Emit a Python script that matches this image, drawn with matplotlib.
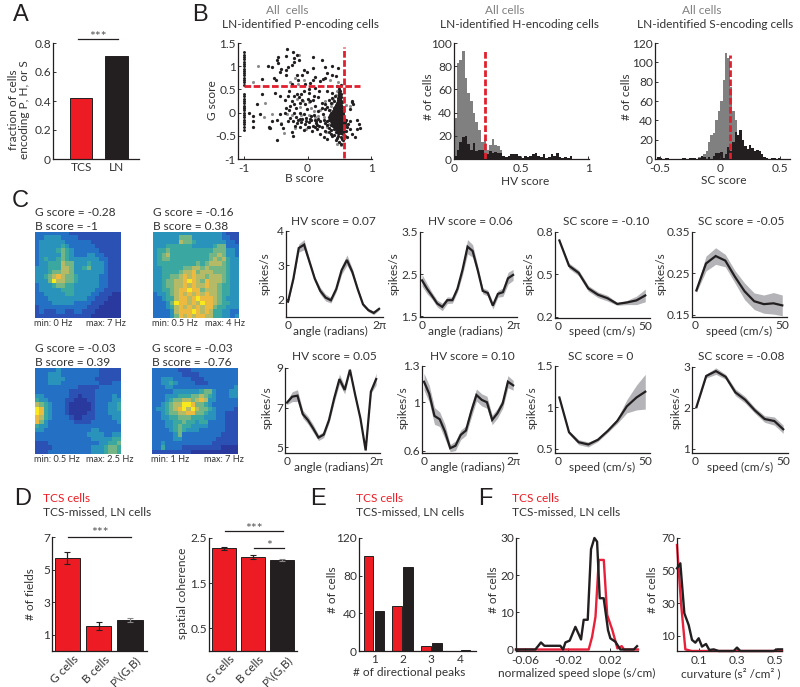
import numpy as np
import matplotlib
matplotlib.use("Agg")
import matplotlib.pyplot as plt
from matplotlib.colors import LinearSegmentedColormap
from matplotlib.transforms import ScaledTranslation

plt.rcParams['font.family'] = ['Lato', 'DejaVu Sans']
FS = 8.6
INK = '#333333'
BLK = '#231f20'
RED = '#ed1c24'
GREY = '#808080'
BAND = '#b4b4b8'

# ---------- A
a_labels = ['TCS', 'LN']
a_values = [0.42, 0.71]

# ---------- B scatter (B score, G score)
col_y = [1.3,1.25,1.2,1.15,1.1,1.05,1.0,.95,.9,.85,.8,.75,.7,.65,.6,.4,.35,.3,.25,.2,.15,.1,.05,0,-.05,-.1,-.15,-.2,-.25,-.3,-.37]
black_pts = [(-.32,1.38),(-.23,1.3),(-.17,1.25),(.08,1.19),(.22,1.13),(-.47,1.2),(-.48,1.13),(-.34,1.22),(-.62,1.01),(-.56,.99),(-.46,1.06),(-.21,1.17),(-.22,1.1),(-.25,1.03),(-.31,.99),(-.41,.94),(-.43,.87),(-.34,.92),(-.14,1.13),(-.05,.91),(-.01,.87),(.09,.96),(.28,.98),(.39,1.01),(.48,.96),(.31,.85),(.12,.76),(-.16,.82),(-.09,.8),(-.15,.71),(-.71,.73),(-.52,.74),(-.5,.71),(-.33,.8),(.28,.74),(.2,.69),(.24,.73),(.39,.82),(.45,.78),(.09,.7),(.04,.64),(-.04,.62),(-.25,.62),(-.29,.46),(-.51,.43),(-.71,.41),(-.8,.19),(-.43,.35),(-.3,.35),(-.22,.35),(-.17,.4),(-.06,.46),(.02,.5),(.11,.53),(.18,.46),(.31,.46),(.38,.43),(.46,.57),(.52,.6),
(-.25,.25),(-.21,.18),(-.18,.09),(-.12,0),(-.06,-.04),(-.01,.07),(.04,.25),(.08,.27),(.12,.14),(-.04,.18),(-.08,.28),(-.13,.33),(-.27,.14),(-.22,0),(-.18,-.09),(-.12,-.14),(-.03,-.11),(.06,-.07),(.11,-.16),(.17,-.14),(.23,.21),(.28,.18),(.33,.28),(.38,.32),(.28,.07),(.24,-.04),(.2,-.18),(.25,-.16),(.31,-.19),(.16,.33),(.03,.42),(-.1,.4),(-.36,.27),(-.33,.1),(-.29,.05),
(-.56,-.18),(-.48,-.16),(-.43,-.04),(-.36,-.01),(-.27,-.11),(-.41,-.25),(-.3,-.19),(-.23,-.19),(-.17,-.23),(-.1,-.21),(-.04,-.25),(.03,-.21),(.08,-.28),(.13,-.19),(.02,-.32),(.07,-.39),(.15,-.35),(.23,-.32),(.28,-.39),(.2,-.46),(.25,-.53),(.31,-.57),(.38,-.5),(-.39,-.34),(-.24,-.42),(-.23,-.51),(-.48,-.6),(-.6,-.3),(-.59,-.34),(-.85,-.19),(-.92,-.01),(-.85,-.07),(-.85,-.3),(-.75,-.04),(-.12,-.31),(-.06,-.37),(.0,-.3),(.04,-.13),(.1,-.05),(.15,-.27),(.18,-.28),(.12,-.3),
(.7,.23),(.7,.25),(.72,.18),(.66,.07),(.64,-.25),(.67,-.35),(.69,-.46),(.62,-.53),(.74,-.52),(.78,-.16),(.81,-.25),(.78,-.35),(.82,-.34),(.67,-.19),(.6,-.4),(.55,-.6),(.44,-.6),(.49,-.64),(.52,-.67),(.46,-.55),(.54,-.57),(.59,-.5),
(.5,.5),(.51,.46),(.49,.42),(.52,.4),(.5,.36),(.53,.33),(.48,.32),(.51,.29),(.47,.26),(.5,.24),(.54,.22),(.46,.2),(.49,.18),(.52,.17),(.44,.14),(.47,.13),(.5,.12),(.54,.11),(.42,.09),(.45,.08),(.48,.07),(.51,.07),(.55,.06),(.4,.04),(.43,.03),(.46,.03),(.49,.02),(.52,.02),(.56,.01),(.37,0),(.4,-.01),(.43,-.02),(.46,-.02),(.49,-.03),(.52,-.03),(.55,-.04),(.35,-.05),(.38,-.05),(.41,-.06),(.44,-.07),(.47,-.07),(.5,-.08),(.53,-.08),(.56,-.09),(.33,-.1),(.36,-.1),(.39,-.11),(.42,-.12),(.45,-.12),(.48,-.13),(.51,-.13),(.54,-.14),(.57,-.14),(.6,-.15),(.34,-.16),(.37,-.16),(.4,-.17),(.43,-.18),(.46,-.18),(.49,-.19),(.52,-.19),(.55,-.2),(.58,-.2),(.38,-.22),(.41,-.23),(.44,-.24),(.47,-.24),(.5,-.25),(.53,-.25),(.56,-.26),(.59,-.27),(.36,-.27),(.4,-.29),(.43,-.3),(.46,-.3),(.49,-.31),(.52,-.32),(.55,-.32),(.62,-.3),(.42,-.35),(.45,-.36),(.48,-.37),(.51,-.38),(.54,-.38),(.57,-.4),(.44,-.42),(.47,-.43),(.5,-.44),(.53,-.45),(.56,-.46),(.42,-.48),(.48,-.5),(.52,-.52)]
black_dense = [(.5,.44),(.49,.38),(.51,.34),(.5,.3),(.48,.28),(.52,.26),(.49,.23),(.47,.21),(.51,.21),(.45,.17),(.48,.16),(.51,.15),(.53,.14),(.43,.11),(.46,.11),(.49,.1),(.52,.09),(.41,.06),(.44,.05),(.47,.05),(.5,.05),(.53,.04),(.42,.01),(.45,.01),(.48,0),(.51,0),(.54,-.01),(.39,-.03),(.42,-.04),(.45,-.05),(.48,-.05),(.51,-.05),(.54,-.06),(.37,-.08),(.4,-.08),(.43,-.09),(.46,-.1),(.49,-.1),(.52,-.11),(.55,-.11),(.35,-.13),(.38,-.14),(.41,-.15),(.44,-.15),(.47,-.16),(.5,-.16),(.53,-.17),(.56,-.17),(.36,-.19),(.39,-.2),(.42,-.21),(.45,-.21),(.48,-.22),(.51,-.22),(.54,-.23),(.57,-.23),(.42,-.26),(.45,-.27),(.48,-.27),(.51,-.28),(.54,-.28),(.57,-.3),(.44,-.33),(.47,-.33),(.5,-.34),(.53,-.35),(.56,-.35),(.46,-.4),(.49,-.4),(.52,-.41),(.55,-.42),(.34,-.33),(.3,-.27),(.27,-.23),(.33,-.42),(.37,-.38),(.36,-.46),(.33,.05),(.3,.12),(.36,.2),(.41,.24),(.43,.35),(.22,.1),(.17,.03),(.14,-.22),(.05,-.17),(-.02,-.18),(-.08,-.13),(-.15,-.17),(-.2,-.28),(.1,.35),(.0,.3),(-.12,.2)]
grey_pts = [(-.77,1.0),(-.85,.65),(-.13,1.25),(-.2,.75),(-.15,.62),(-.28,.66),(-.05,.7),(.35,.7),(.47,.65),(-.66,.2),(-.55,-.03),(-.68,-.1),(-.6,-.33),(-.42,-.23),(-.37,-.45),(-.12,.12),(.05,.1),(.02,.22),(.1,.03),(-.07,.25),(-.16,.3),(.19,.05),(.12,-.1),(-.1,-.06),(.03,-.06),(.16,-.08),(-.25,-.05),(.27,.25),(.36,.15),(.3,-.3),(.4,.3),(.46,.47),(.5,.54),(.44,.37),(.66,.15),(.61,.17),(.6,-.25),(.46,-.68),(.52,-.7),(-.03,-.35),(-.2,-.33),(-1,.13),(-1,.09),(.25,-.09),(.35,.05),(.39,.2),(.29,-.42),(.42,-.15),(.34,-.25),(-.32,-.03)]

# ---------- B histograms
hv_bins = np.arange(0, 0.9, 0.02)
hv_grey = [35,83,85,93,70,57,50,40,32,25,15,17,8,12,17,12,11,8]
hv_black = [3,8,15,19,20,13,8,14,7,8,8,5,4,7,5,6,5,5,3,2,3,4,4,4,3,1,3,2,3,4,5,3,2,4,1,2,4,3,5,2,1,2,1,3,0]
sc_grey_bins = np.arange(-0.18, 0.22, 0.02)
sc_grey = [2,3,5,8,18,25,27,40,50,60,82,110,105,75,50,40,22,12,8,3]
sc_black_bins = np.arange(-0.52, 0.50, 0.02)
sc_black = [2,1,0,1,1,0,0,0,0,0,1,1,0,1,1,1,0,1,3,2,0,2,0,3,6,6,7,1,5,12,8,18,28,25,30,20,13,10,14,11,8,9,8,5,2,1,0,1,1,0,1]

# ---------- C heat maps (digits 0-9 are firing-rate levels)
hm1 = ["33333333222222222222","33444433332222222222","34444443333332222222","34444454333333222222","34444565433333322222","34444465433344332222","34544565444444433222","34455576644454443222","44455577644564443222","44456677644444443222","44567876654444433222","44469776654444433222","34445665544444433222","34444455544444332222","33444445544443322211","33344444444433222111","33334444433332221111","23333333333322211111","23222332233222111111","22222222222221111111"]
hm2 = ["44444444444444443222","44444466644444443322","44444476654444444332","44455555544444566333","45565555555555666443","45675555555556676443","45665555555556767544","45555555556567776544","44555556677676666544","44555567786777666544","44556678787767776544","44566778987687776544","44566778787787765544","44556788988677765544","34456787878787765544","33455788789888765444","33346988787988765544","33345787878788655444","33334788898787554433","33334687878877554434"]
hm3 = ["33333433333333322222","33344433333333322222","33344443333333222222","33344433333333322233","33333333332222233333","33333333222222333333","44333333221222333343","54433332211122333344","76543332111112333445","98543332111112333445","98543332111122333444","87543333211222333344","86433333322223333334","54433333333333333333","44333333333334433333","33333333333344443344","33333333333334444455","22233333333333344556","22223333333334445665","22233333333334445665"]
hm4 = ["33333322233333333333","33333332222333333333","33444333322233333333","33445433332223333333","33344333333333333334","33333444444566433344","33344455566765433344","33345667767874433333","33456779986654333333","34456789797665433332","33456677886654433222","33445566655544433222","33344556554553333222","33344565544443333222","33334565444333333222","33333463333333332222","33333443333333322222","33433333333333222222","33533332222222221111","22222222211111111111"]

# ---------- C tuning curves
hv1 = [1.93,2.6,3.5,3.6,3.1,2.6,2.25,2.05,1.97,2.3,2.85,3.15,2.8,2.3,1.85,1.68,1.6,1.72]
hv1e = [.05,.05,.12,.15,.08,.06,.1,.1,.08,.08,.12,.15,.1,.06,.05,.05,.05,.04]
hv2 = [2.35,2.15,1.98,1.8,1.72,1.88,1.88,2.15,2.6,3.15,3.05,2.6,2.1,2.05,1.75,2.03,2.07,2.4,2.48]
hv2e = [.14,.12,.08,.08,.09,.08,.07,.08,.12,.17,.15,.1,.07,.07,.08,.08,.1,.14,.13]
hv3 = [7.25,7.55,7.6,6.67,6.36,5.94,5.48,5.63,6.36,7.47,8.44,7.89,8.91,7.64,6.45,4.83,7.81,8.44]
hv3e = [.1,.25,.3,.2,.2,.2,.15,.15,.15,.2,.25,.2,.1,.05,.05,.05,.1,.3]
hv4 = [1.17,1.07,.887,.859,.757,.62,.64,.73,.766,.923,1.06,1.02,1.0,.854,.909,.99,1.17,1.14]
hv4e = [.07,.07,.07,.06,.06,.03,.04,.04,.04,.05,.05,.05,.05,.04,.04,.04,.05,.04]
sc1 = [.74,.56,.51,.40,.355,.33,.29,.30,.315,.35]
sc1e = [.005,.02,.02,.02,.02,.02,.01,.015,.03,.045]
sc2 = [.209,.274,.292,.281,.242,.207,.183,.176,.178,.173]
sc2e = [.005,.018,.02,.015,.015,.02,.02,.022,.026,.025]
sc3 = [1.12,.70,.58,.553,.61,.715,.836,1.014,1.12,1.19]
sc3e = [.01,.02,.03,.03,.02,.02,.03,.08,.15,.21]
sc4 = [2.02,2.78,2.9,2.76,2.38,2.2,1.94,1.73,1.68,1.48]
sc4e = [.02,.05,.08,.06,.08,.08,.07,.08,.1,.1]
speed = [1,6.5,12,17.5,23,28.5,34,39.5,45,50]

# ---------- D / E / F
d_labels = ['G cells', 'B cells', 'P\\(G,B)']
fields = [5.7, 1.55, 1.9]
fields_err = [.35, .25, .1]
coherence = [2.27, 2.08, 2.02]
coherence_err = [.03, .05, .02]
peaks = [1, 2, 3, 4]
peaks_tcs = [101, 48, 5, 0]
peaks_ln = [43, 89, 8, 1]
slope_x_ln = [-.0688,-.0506,-.0453,-.0421,-.0271,-.0245,-.0223,-.0183,-.0129,-.0076,-.0051,-.0013,.0018,.005,.0075,.01,.0137,.0178,.02,.0247,.0294,.042,.0451]
slope_y_ln = [0,0,1.9,1,1,0,1.9,2.4,6.1,2.7,8,8,27,30,29,13.8,13.8,5.2,3,2.1,0,0,.9]
slope_x_tcs = [-.0688,-.0004,.0028,.006,.0091,.0138,.017,.0219,.0266,.0307,.0329,.046]
slope_y_tcs = [0,0,3.4,8.8,24.1,24.1,9.3,5.2,.3,.9,0,0]
curv_x_ln = [-.0186,-.0009,.0204,.0434,.0611,.0788,.0965,.1142,.1354,.1531,.1761,.2027,.2823,.3,.3177,.4947,.5124,.539]
curv_y_ln = [51.4,54.5,23.9,16.7,7.6,5.9,8.6,3.5,5.1,1.4,1.8,.8,.8,2.9,.8,.8,1.8,1.8]
curv_x_tcs = [-.0186,.0027,.0257,.06,.539]
curv_y_tcs = [65.7,30,1.8,.8,.8]

W, H = 800, 687
fig = plt.figure(figsize=(8, 6.87), dpi=100, facecolor='white')

def box(l, t, r, b):
    ax = fig.add_axes([l/W, 1-b/H, (r-l)/W, (b-t)/H])
    ax.patch.set_alpha(0)
    for s in ('top', 'right'):
        ax.spines[s].set_visible(False)
    for s in ('left', 'bottom'):
        ax.spines[s].set_linewidth(0.9)
        ax.spines[s].set_color(BLK)
    ax.tick_params(direction='in', length=2.2, width=0.7, labelsize=FS, colors=INK, pad=1.5)
    return ax

def ft(x, y, s, ha='center', va='center', size=FS, color=INK, **kw):
    return fig.text(x/W, 1-y/H, s, ha=ha, va=va, size=size, color=color, **kw)

def letter(x, y, s):
    ft(x, y, s, ha='left', size=17, color=BLK, family='Liberation Sans')

def sig(ax, x0, x1, y, stars, ty):
    ax.plot([x0, x1], [y, y], color=BLK, lw=0.9, clip_on=False)
    ax.text((x0+x1)/2, ty, stars, ha='center', va='center', fontsize=10, color='#555555', clip_on=False)

def xlab(ax, s, px, py):
    ax.set_xlabel(s, fontsize=FS, color=INK)
    ax.xaxis.set_label_coords(*ax.transAxes.inverted().transform((px, H-py)))
    ax.xaxis.label.set_verticalalignment('center')

def ylab(ax, s, px, py, size=FS):
    ax.set_ylabel(s, fontsize=size, color=INK, linespacing=1.1)
    ax.yaxis.set_label_coords(*ax.transAxes.inverted().transform((px, H-py)))
    ax.yaxis.label.set_verticalalignment('center')

def shift_xticklabels(ax, px):
    off = ScaledTranslation(px/100, 0, fig.dpi_scale_trans)
    for lb in ax.get_xticklabels():
        lb.set_transform(lb.get_transform() + off)

# A
letter(13, 15, 'A')
ax = box(53, 43, 139, 159)
ax.bar([1, 2], a_values, width=0.63, color=[RED, BLK], edgecolor=BLK, linewidth=0.7)
ax.set_xlim(0.21, 2.63); ax.set_ylim(0, 0.8)
ax.set_xticks([1, 2], a_labels); ax.tick_params(axis='x', length=0, pad=2.5)
ax.set_yticks([0, .2, .4, .6, .8], ['0', '0.2', '0.4', '0.6', '0.8'])
sig(ax, 0.9, 2.05, 0.828, '***', 0.84)
ylab(ax, 'fraction of cells\nencoding P, H, or S', 19, 110)

# B scatter
letter(192, 15, 'B')
ft(287, 10, 'All  cells', color=GREY)
ft(301, 24, 'LN-identified P-encoding cells')
ax = box(238, 43, 372, 159)
gx, gy = zip(*grey_pts)
bx, by = zip(*(black_pts + black_dense))
ax.scatter(gx, gy, s=5, color='#8c8c8c', linewidths=0, clip_on=False)
ax.scatter(bx, by, s=5.5, color=BLK, linewidths=0, clip_on=False)
ax.scatter([-1]*len(col_y), col_y, s=4.5, color=BLK, linewidths=0)
ax.plot([.57, .57], [-.97, 1.42], color='#e0202e', lw=2, ls=(0, (2.4, 0.9)))
ax.plot([-1, .82], [.57, .57], color='#e0202e', lw=2, ls=(0, (2.4, 0.9)))
ax.set_xlim(-1.09, 1.01); ax.set_ylim(-1, 1.5)
ax.set_xticks([-1, 0, 1], ['-1', '0', '1'])
ax.set_yticks([-1, -.5, 0, .5, 1, 1.5], ['-1', '-0.5', '0', '0.5', '1', '1.5'])
ax.tick_params(axis='x', pad=3)
xlab(ax, 'B score', 304, 179)
ylab(ax, 'G score', 213, 100)

# B HV histogram
ft(505, 10, 'All cells', color=GREY)
ft(519, 24, 'LN-identified H-encoding cells')
ax = box(454, 43, 589, 159)
ax.bar(hv_bins[:len(hv_grey)], hv_grey, width=0.02, align='edge', color=GREY, linewidth=0)
ax.bar(hv_bins[:len(hv_black)], hv_black, width=0.02, align='edge', color=BLK, linewidth=0)
ax.plot([.23, .23], [0, 93], color='#e0202e', lw=2, ls=(0, (2.4, 0.9)))
ax.set_xlim(0, 1.005); ax.set_ylim(0, 100)
ax.set_xticks([0, .5, 1], ['0', '0.5', '1']); ax.set_yticks([0, 20, 40, 60, 80, 100])
ax.tick_params(axis='x', pad=3)
xlab(ax, 'HV score', 525, 181)
ylab(ax, '# of cells', 429, 97)

# B SC histogram
ft(702, 10, 'All cells', color=GREY)
ft(715, 24, 'LN-identified S-encoding cells')
ax = box(655, 43, 790, 159)
ax.bar(sc_grey_bins[:len(sc_grey)], sc_grey, width=0.02, align='edge', color=GREY, linewidth=0)
ax.bar(sc_black_bins[:len(sc_black)], sc_black, width=0.02, align='edge', color=BLK, linewidth=0)
ax.plot([.08, .08], [0, 108], color='#e0202e', lw=2, ls=(0, (2.4, 0.9)))
ax.set_xlim(-.54, .58); ax.set_ylim(0, 120)
ax.set_xticks([-.5, 0, .5], ['-0.5', '0', '0.5']); ax.set_yticks([0, 20, 40, 60, 80, 100, 120])
ax.tick_params(axis='x', pad=3)
xlab(ax, 'SC score', 724, 180)
ylab(ax, '# of cells', 627, 97)

# C heat maps
letter(12, 201, 'C')
parula = LinearSegmentedColormap.from_list('parula_like', ['#262a8a', '#2a3a9e', '#2a52b4', '#2470c4', '#2a94bc', '#3aa8a2', '#74b586', '#b3bb66', '#ecb942', '#f8e81e'])
hm_specs = [(hm1, 35, 232, 'G score = -0.28', 'B score = -1', 'min: 0 Hz', 'max: 7 Hz', 126),
            (hm2, 153, 232, 'G score = -0.16', 'B score = 0.38', 'min: 0.5 Hz', 'max: 4 Hz', 245),
            (hm3, 35, 368, 'G score = -0.03', 'B score = 0.39', 'min: 0.5 Hz', 'max: 2.5 Hz', 134),
            (hm4, 152, 368, 'G score = -0.03', 'B score = -0.76', 'min: 1 Hz', 'max: 7 Hz', 244)]
for grid, l, t, g, b, mn, mx, mxr in hm_specs:
    ax = fig.add_axes([l/W, 1-(t+86)/H, 86/W, 86/H])
    ax.imshow(np.array([[int(c) for c in row] for row in grid]), cmap=parula, vmin=0, vmax=9, aspect='auto', interpolation='nearest')
    ax.axis('off')
    ft(l, t-20, g, ha='left'); ft(l, t-6, b, ha='left')
    ft(l-1, t+92, mn, ha='left', size=6.6); ft(mxr, t+92, mx, ha='right', size=6.6)

# C tuning curves
TWO_PI = 2*np.pi
def curve(box_px, vals, errs, xs, ylim, yticks, ylabs, xlim, xticks, xlabs, title, tx, ty, lx, ly, xl, ylx, yly):
    ax = box(*box_px)
    xs = np.asarray(xs); vals = np.asarray(vals); errs = np.asarray(errs)
    ax.fill_between(xs, vals-errs, vals+errs, color=BAND, linewidth=0, clip_on=False)
    ax.plot(xs, vals, color=BLK, lw=1.6, solid_joinstyle='miter', clip_on=False)
    ax.set_xlim(*xlim); ax.set_ylim(*ylim)
    ax.set_xticks(xticks, xlabs); ax.tick_params(axis='x', length=0, pad=2)
    ax.set_yticks(yticks, ylabs)
    ft(tx, ty, title)
    xlab(ax, xl, lx, ly)
    ylab(ax, 'spikes/s', ylx, yly)

ang18 = np.linspace(0, TWO_PI, 18)
ang19 = np.linspace(0, TWO_PI, 19)
axl = (-.14, TWO_PI+.27)
akw = dict(xlim=axl, xticks=[0, TWO_PI+.02], xlabs=['0', '2π'], xl='angle (radians)')
skw = dict(xlim=(-1.5, 52.7), xticks=[0.5, 50], xlabs=['0', '50'], xl='speed (cm/s)')
curve((286, 231, 383, 317), hv1, hv1e, ang18, (1.48, 4), [2, 3, 4], ['2', '3', '4'], title='HV score = 0.07', tx=333, ty=221, lx=330, ly=331, ylx=265, yly=274, **akw)
curve((420, 232, 517, 317), hv2, hv2e, ang19, (1.48, 3.5), [1.5, 2.5, 3.5], ['1.5', '2.5', '3.5'], title='HV score = 0.06', tx=470, ty=221, lx=465, ly=331, ylx=394, yly=274, **akw)
curve((555, 232, 650, 318), sc1, sc1e, speed, (.19, .8), [.2, .5, .8], ['0.2', '0.5', '0.8'], title='SC score = -0.10', tx=606, ty=221, lx=602, ly=331, ylx=529, yly=274, **skw)
curve((692, 232, 787, 317), sc2, sc2e, speed, (.145, .35), [.15, .25, .35], ['0.15', '0.25', '0.35'], title='SC score = -0.05', tx=741, ty=221, lx=739, ly=331, ylx=661, yly=274, **skw)
curve((285, 368, 380, 453), hv3, hv3e, ang18, (4.7, 9), [5, 7, 9], ['5', '7', '9'], title='HV score = 0.05', tx=334, ty=357, lx=331, ly=467, ylx=267, yly=408, **akw)
curve((422, 366, 517, 453), hv4, hv4e, ang18, (.58, 1.3), [.6, 1, 1.3], ['0.6', '1', '1.3'], title='HV score = 0.10', tx=472, ty=357, lx=467, ly=467, ylx=403, yly=408, **akw)
curve((555, 366, 650, 453), sc3, sc3e, speed, (.45, 1.5), [.5, 1, 1.5], ['0.5', '1', '1.5'], title='SC score = 0', tx=601, ty=357, lx=602, ly=467, ylx=532, yly=408, **skw)
curve((692, 367, 788, 453), sc4, sc4e, speed, (.9, 3), [1, 2, 3], ['1', '2', '3'], title='SC score = -0.08', tx=741, ty=357, lx=740, ly=467, ylx=676, yly=408, **skw)

# D
letter(14, 499, 'D')
ft(43, 499, 'TCS cells', ha='left', color=RED)
ft(43, 512, 'TCS-missed, LN cells', ha='left')
ax = box(52, 537, 147, 651)
for i, (v, e) in enumerate(zip(fields, fields_err)):
    col = BLK if i == 2 else RED
    ax.bar(i+1, v, width=.81, color=col, edgecolor=BLK, linewidth=.7)
    ax.errorbar(i+1, v, yerr=e, color='#888888' if i == 2 else BLK, capsize=2.5, lw=.9, capthick=.8)
ax.set_xlim(.505, 3.54); ax.set_ylim(0, 7)
ax.set_yticks([1, 3, 5, 7], ['1', '3', '5', '7'])
ax.set_xticks([1, 2, 3], d_labels, rotation=45, ha='right', rotation_mode='anchor')
ax.tick_params(axis='x', length=0, pad=2)
shift_xticklabels(ax, 5)
sig(ax, 1.02, 3.03, 7.0, '***', 7.22)
ylab(ax, '# of fields', 31, 594)

ax = box(209, 538, 297, 651)
for i, (v, e) in enumerate(zip(coherence, coherence_err)):
    col = BLK if i == 2 else RED
    ax.bar(i+1, v, width=.83, color=col, edgecolor=BLK, linewidth=.7)
    ax.errorbar(i+1, v, yerr=e, color='#888888' if i == 2 else BLK, capsize=2.5, lw=.9, capthick=.8)
ax.set_xlim(.48, 3.52); ax.set_ylim(0, 2.5)
ax.set_yticks([.5, 1.5, 2.5], ['0.5', '1.5', '2.5'])
ax.set_xticks([1, 2, 3], d_labels, rotation=45, ha='right', rotation_mode='anchor')
ax.tick_params(axis='x', length=0, pad=2)
shift_xticklabels(ax, 5)
sig(ax, 1.03, 3.03, 2.65, '***', 2.7)
sig(ax, 2.03, 3.07, 2.27, '*', 2.32)
ylab(ax, 'spatial coherence', 182, 593)

# E
letter(310, 499, 'E')
ft(356, 499, 'TCS cells', ha='left', color=RED)
ft(356, 512, 'TCS-missed, LN cells', ha='left')
ax = box(359, 538, 476, 651)
ax.bar(np.array(peaks)-.19, peaks_tcs, width=.34, color=RED, edgecolor=BLK, linewidth=.7)
ax.bar(np.array(peaks)+.19, peaks_ln, width=.34, color=BLK, edgecolor=BLK, linewidth=.7)
ax.set_xlim(.475, 4.56); ax.set_ylim(0, 120)
ax.set_xticks(peaks, ['1', '2', '3', '4']); ax.tick_params(axis='x', length=0, pad=2.5)
ax.set_yticks([0, 40, 80, 120])
xlab(ax, '# of directional peaks', 409, 673)
ylab(ax, '# of cells', 332, 590)

# F
letter(478, 499, 'F')
ft(512, 499, 'TCS cells', ha='left', color=RED)
ft(512, 512, 'TCS-missed, LN cells', ha='left')
ax = box(516, 538, 638, 651)
ax.plot(slope_x_tcs, slope_y_tcs, color='#e8203a', lw=1.7, clip_on=False)
ax.plot(slope_x_ln, slope_y_ln, color=BLK, lw=1.7, clip_on=False)
ax.set_xlim(-.0688, .046); ax.set_ylim(-.4, 30)
ax.set_xticks([-.06, -.02, .02], ['-0.06', '-0.02', '0.02']); ax.tick_params(axis='x', pad=3)
ax.set_yticks([0, 10, 20, 30])
xlab(ax, 'normalized speed slope (s/cm)', 577, 673)
ylab(ax, '# of cells', 493, 590)

ax = box(677, 538, 782, 651)
ax.plot(curv_x_tcs, curv_y_tcs, color='#e8203a', lw=1.7, clip_on=False)
ax.plot(curv_x_ln, curv_y_ln, color=BLK, lw=1.7, clip_on=False)
ax.set_xlim(-.0186, .539); ax.set_ylim(.8, 70)
ax.set_xticks([.1, .3, .5], ['0.1', '0.3', '0.5']); ax.tick_params(axis='x', pad=3)
ax.set_yticks([10, 30, 50, 70])
xlab(ax, 'curvature (s² /cm² )', 731, 673)
ylab(ax, '# of cells', 652, 590)

fig.savefig('out.png', dpi=100)
